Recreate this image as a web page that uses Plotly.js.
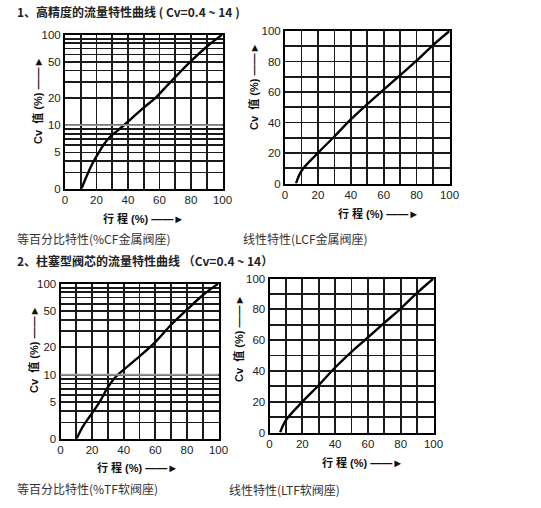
<!DOCTYPE html>
<html>
<head>
<meta charset="utf-8">
<script src="https://cdn.plot.ly/plotly-3.0.1.min.js"></script>
<style>
  body { margin: 0; background: #fff; }
  #chart { width: 541px; height: 508px; }
</style>
</head>
<body>
<div id="chart"></div>
<script>
// stroke (%) and Cv (%)
let travelCF = [10.5, 14.2, 18, 21.8, 24.3, 28.6, 33, 37, 42.3, 50, 57.8, 64.6, 70, 80, 90, 100];
let cvCF     = [2, 2.86, 3.94, 5.1, 6.0, 7.45, 8.6, 9.85, 11.9, 15.6, 20.3, 27, 34, 51, 73.3, 100];

let travelLCF = [6.7, 10, 20, 30, 40, 50, 60, 70, 80, 90, 100];
let cvLCF     = [0, 8.3, 20, 30.8, 42, 52, 61.5, 71, 80.5, 90.8, 100];

let travelTF = [10.3, 12.5, 15, 20, 25, 30, 35, 40, 50, 60, 70, 80, 90, 100];
let cvTF     = [2, 2.4, 2.85, 3.8, 5.1, 7.3, 9.5, 11.35, 15.9, 22.8, 35.3, 51.6, 74.3, 100];

let travelLTF = [6.5, 10, 20, 30, 40, 50, 60, 70, 80, 90, 100];
let cvLTF     = [0, 8.0, 19.9, 30.7, 42.2, 52.4, 61.7, 71.2, 80.5, 90.7, 100];

let xGrid = [0, 10, 20, 30, 40, 50, 60, 70, 80, 90, 100];
let xLabels = ['0', '', '20', '', '40', '', '60', '', '80', '', '100'];
let linGrid = [0, 10, 20, 30, 40, 50, 60, 70, 80, 90, 100];
let linLabels = ['0', '', '20', '', '40', '', '60', '', '80', '', '100'];
let logGrid = [2, 3, 4, 5, 6, 7, 8, 9, 10, 20, 30, 40, 50, 60, 70, 80, 90, 100];
let logLabels = ['0', '', '', '5', '', '', '', '', '10', '20', '', '', '50', '', '', '', '', '100'];

const W = 541, H = 508;
const fx = p => p / W;
const fy = p => 1 - p / H;

const FONT = '"Liberation Sans", Arial, "Noto Sans CJK SC", sans-serif';
const CJK = '"Noto Sans CJK SC", "Liberation Sans", sans-serif';
const GRID = '#1a1a1a';

function curve(x, y, xa, ya) {
    return {
        x: x, y: y, xaxis: xa, yaxis: ya,
        type: 'scatter', mode: 'lines',
        line: {color: '#000', width: 2.4, shape: 'spline', smoothing: 1},
        hoverinfo: 'skip', showlegend: false
    };
}

let data = [
    curve(travelCF, cvCF, 'x', 'y'),
    curve(travelLCF, cvLCF, 'x2', 'y2'),
    curve(travelTF, cvTF, 'x3', 'y3'),
    curve(travelLTF, cvLTF, 'x4', 'y4')
];

function baseAxis() {
    return {
        tickmode: 'array', ticks: '',
        showgrid: true, gridcolor: GRID, gridwidth: 1.7,
        showline: true, linecolor: '#000', linewidth: 2, mirror: true,
        zeroline: false,
        tickfont: {family: FONT, size: 11.5, color: '#222'}
    };
}
function xAxis(left, right, anchor) {
    return Object.assign(baseAxis(), {
        domain: [fx(left), fx(right)], anchor: anchor,
        range: [0, 100], tickvals: xGrid, ticktext: xLabels
    });
}
function yLin(top, bottom, anchor) {
    return Object.assign(baseAxis(), {
        domain: [fy(bottom), fy(top)], anchor: anchor,
        range: [0, 100], tickvals: linGrid, ticktext: linLabels
    });
}
function yLog(top, bottom, anchor) {
    return Object.assign(baseAxis(), {
        domain: [fy(bottom), fy(top)], anchor: anchor,
        type: 'log', range: [Math.log10(2), 2],
        tickvals: logGrid, ticktext: logLabels
    });
}

let layout = {
    width: W, height: H,
    margin: {l: 0, r: 0, t: 0, b: 0},
    paper_bgcolor: '#fff', plot_bgcolor: '#fff',
    showlegend: false,
    xaxis:  xAxis(65, 222.5, 'y'),
    yaxis:  yLog(34.5, 188.5, 'x'),
    xaxis2: xAxis(285, 449.5, 'y2'),
    yaxis2: yLin(31, 183.5, 'x2'),
    xaxis3: xAxis(60.5, 218.5, 'y3'),
    yaxis3: yLog(283.5, 438.5, 'x3'),
    xaxis4: xAxis(269.5, 433.5, 'y4'),
    yaxis4: yLin(278.5, 432.5, 'x4'),
    shapes: [
        {type: 'line', xref: 'x domain', x0: 0, x1: 1, yref: 'y', y0: 10, y1: 10,
         line: {color: '#9a9a9a', width: 1.8}},
        {type: 'line', xref: 'x3 domain', x0: 0, x1: 1, yref: 'y3', y0: 10, y1: 10,
         line: {color: '#9a9a9a', width: 1.8}}
    ],
    annotations: []
};

function text(t, x, y, opts) {
    layout.annotations.push(Object.assign({
        text: t, xref: 'paper', yref: 'paper', x: fx(x), y: fy(y),
        xanchor: 'left', yanchor: 'middle', showarrow: false,
        font: {family: CJK, size: 12, color: '#333'}
    }, opts || {}));
}

// section headings
text('<b>1、高精度的流量特性曲线 ( Cv=0.4 ~ 14 )</b>', 15, 11.5,
     {font: {family: CJK, size: 12, color: '#222'}});
text('<b>2、柱塞型阀芯的流量特性曲线 （Cv=0.4 ~ 14）</b>', 15, 260.5,
     {font: {family: CJK, size: 12, color: '#222'}});

// captions
text('等百分比特性(%CF金属阀座)', 15, 238);
text('线性特性(LCF金属阀座)', 241, 238);
text('等百分比特性(%TF软阀座)', 15, 488.5);
text('线性特性(LTF软阀座)', 227, 489);

// axis titles
const xTitle = '<b>行 程 (%) ——►</b>';
const yTitle = '<b>Cv  值 (%) ——►</b>';
const tFont = {family: FONT, size: 11, color: '#111'};
text(xTitle, 143, 218, {xanchor: 'center', font: tFont});
text(xTitle, 378, 213.5, {xanchor: 'center', font: tFont});
text(xTitle, 137, 467.5, {xanchor: 'center', font: tFont});
text(xTitle, 362, 462, {xanchor: 'center', font: tFont});
text(yTitle, 38, 101, {xanchor: 'center', textangle: -90, font: tFont});
text(yTitle, 253, 87, {xanchor: 'center', textangle: -90, font: tFont});
text(yTitle, 33, 350, {xanchor: 'center', textangle: -90, font: tFont});
text(yTitle, 238, 339, {xanchor: 'center', textangle: -90, font: tFont});

Plotly.newPlot('chart', data, layout, {staticPlot: true, displayModeBar: false});
</script>
</body>
</html>
